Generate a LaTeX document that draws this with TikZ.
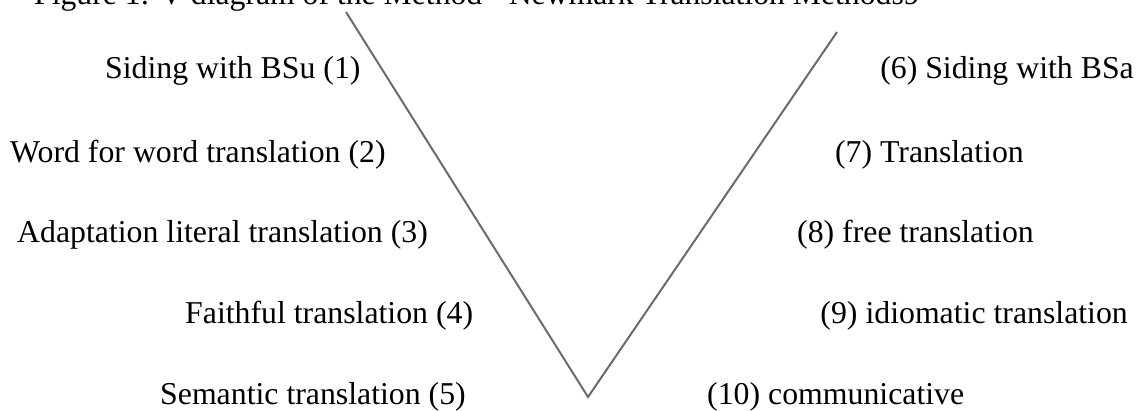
\documentclass[tikz,border=0pt]{standalone}
\usepackage{fontspec}
\setmainfont{Liberation Serif}
\definecolor{vline}{HTML}{6B6B6B}
\begin{document}
\begin{tikzpicture}[x=1pt,y=-1pt,
  lbl/.style={anchor=base west,inner sep=0pt,font=\fontsize{31.8}{36}\selectfont},
  lblr/.style={anchor=base east,inner sep=0pt,font=\fontsize{31.8}{36}\selectfont},
  ttl/.style={anchor=base west,inner sep=0pt,font=\fontsize{31.7}{36}\selectfont},
  vl/.style={draw=vline,line width=2pt}]
\useasboundingbox (0,0) rectangle (1139,410);
\begin{scope}
\clip (0,0) rectangle (1139,410);
\node[ttl] (title) at (34,4) {Figure 1: V diagram of the Method - Newmark Translation Methods9};
\coordinate (lt) at (346,12);
\coordinate (vb) at (588,397);
\coordinate (rt) at (837,32);
\draw[vl] (lt) -- (vb) -- (rt);
\node[lbl] (l1) at (105,78) {Siding with BSu (1)};
\node[lbl] (l2) at (10,162) {Word for word translation (2)};
\node[lbl] (l3) at (17,242) {Adaptation literal translation (3)};
\node[lbl] (l4) at (185,323) {Faithful translation (4)};
\node[lbl] (l5) at (160,404) {Semantic translation (5)};
\node[lblr] (r1) at (1134,78) {(6) Siding with BSa};
\node[lblr] (r2) at (1024,162) {(7) Translation};
\node[lblr] (r3) at (1034,242) {(8) free translation};
\node[lblr] (r4) at (1128,323) {(9) idiomatic translation};
\node[lbl] (r5) at (707,404) {(10) communicative};
\end{scope}
\end{tikzpicture}
\end{document}
